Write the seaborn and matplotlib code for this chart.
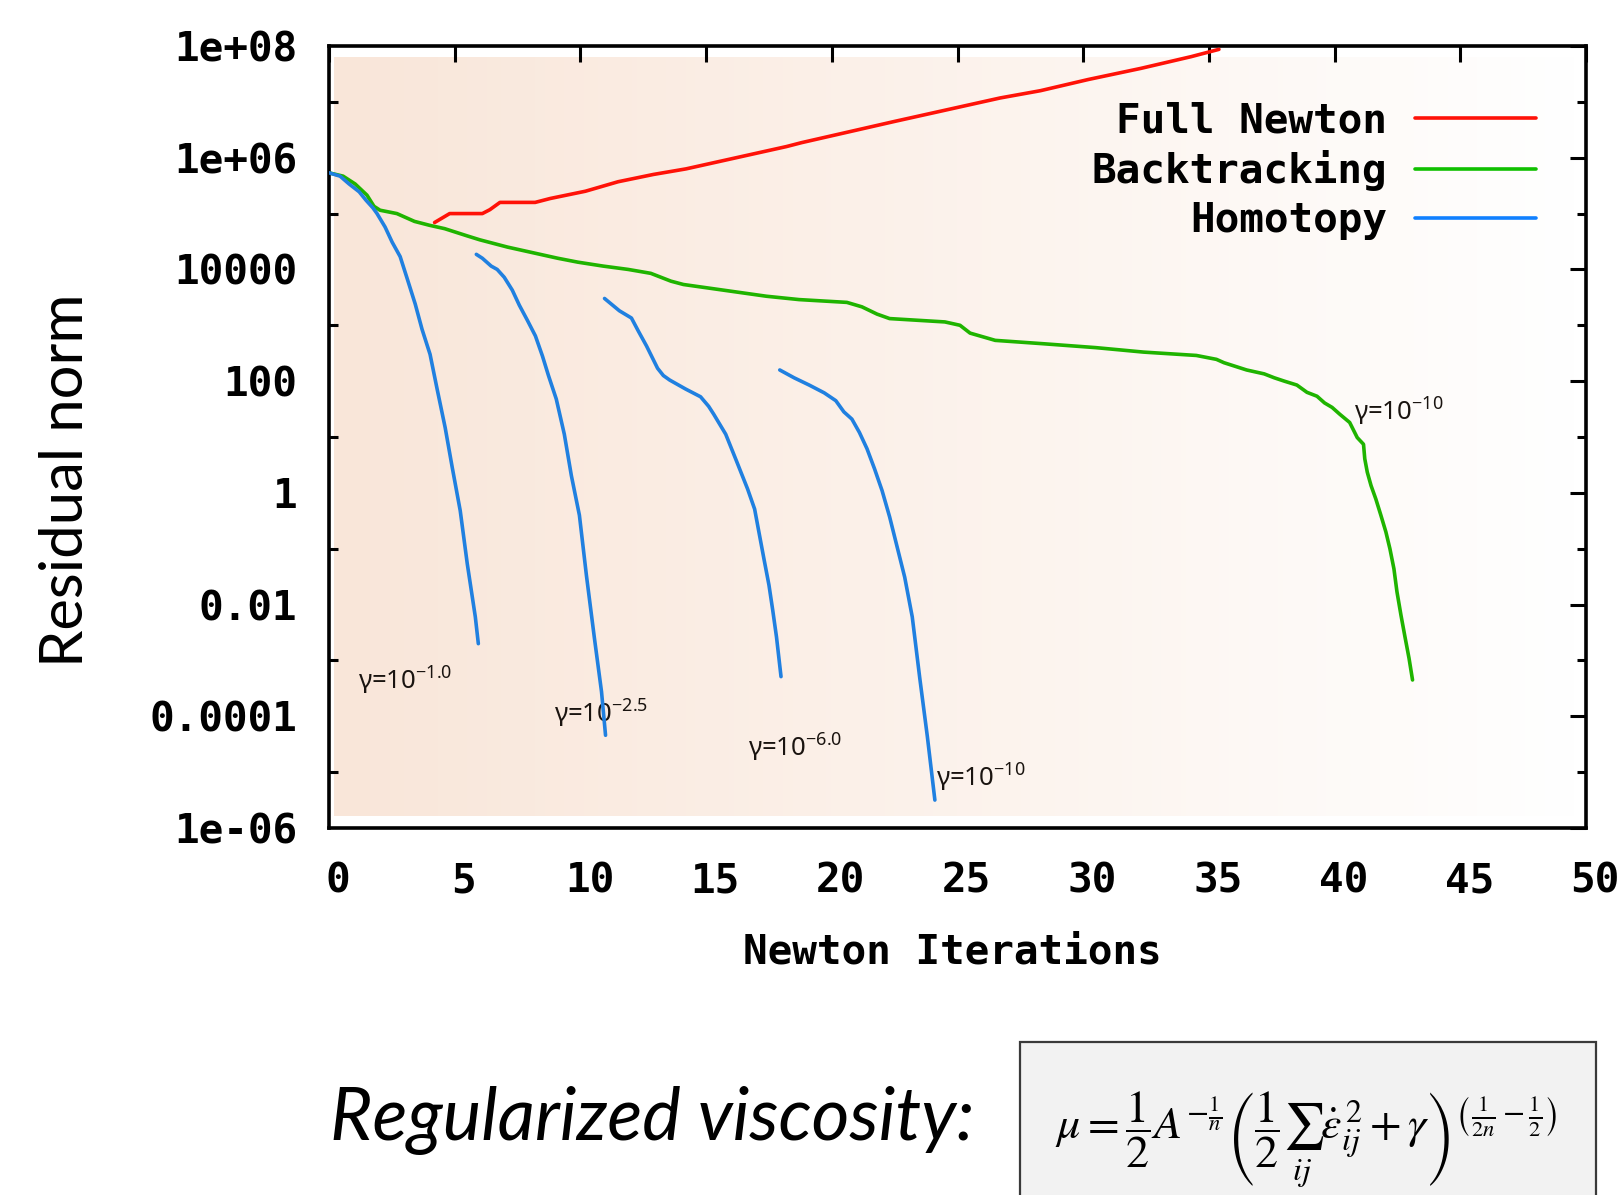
import numpy as np
import pandas as pd
import matplotlib
matplotlib.use("Agg")
import matplotlib.pyplot as plt
import matplotlib.transforms as mtransforms
from matplotlib.lines import Line2D
from matplotlib.patches import Rectangle
from matplotlib.colors import LinearSegmentedColormap
from matplotlib.ticker import NullFormatter
import seaborn as sns

# ---------------- data (x = Newton iteration, e = log10(residual norm)) ----------------
full_newton_x = [4.2, 4.8, 6.1, 6.4, 6.8, 8.2, 8.8, 10.2, 11.5, 12.9, 14.2, 15.5, 16.9,
                 18.2, 18.8, 22.5, 26.7, 28.3, 30.2, 32.3, 34.3, 35.4]
full_newton_e = [4.84, 5.0, 5.0, 5.07, 5.2, 5.2, 5.27, 5.40, 5.57, 5.70, 5.80, 5.93, 6.07,
                 6.20, 6.27, 6.65, 7.07, 7.20, 7.40, 7.60, 7.81, 7.94]

backtracking_x = [0.0, 0.56, 1.04, 1.51, 1.79, 2.03, 2.7, 3.4, 4.0, 4.6, 5.5, 6.0, 7.1, 7.8,
                  8.5, 9.1, 9.9, 10.9, 11.9, 12.8, 13.6, 14.1, 15.2, 16.3, 17.4, 18.7, 20.6,
                  21.2, 21.8, 22.3, 24.5, 25.1, 25.5, 26.5, 28.4, 30.5, 32.4, 34.5, 35.3, 35.6,
                  36.5, 37.2, 37.6, 38.0, 38.5, 38.9, 39.3, 39.6, 39.9, 40.2, 40.6, 40.9, 41.15,
                  41.2, 41.3, 41.45, 41.64, 41.84, 42.04, 42.2, 42.36, 42.48, 42.64, 42.8,
                  42.96, 43.1]
backtracking_e = [5.73, 5.67, 5.53, 5.33, 5.13, 5.06, 5.0, 4.86, 4.79, 4.73, 4.60, 4.53, 4.40,
                  4.33, 4.26, 4.20, 4.13, 4.06, 4.0, 3.93, 3.79, 3.73, 3.66, 3.59, 3.52, 3.46,
                  3.41, 3.33, 3.20, 3.12, 3.06, 3.0, 2.86, 2.73, 2.67, 2.60, 2.52, 2.46, 2.39,
                  2.33, 2.20, 2.13, 2.06, 2.0, 1.93, 1.80, 1.73, 1.61, 1.53, 1.41, 1.26, 0.99,
                  0.87, 0.61, 0.37, 0.13, -0.11, -0.40, -0.70, -1.0, -1.36, -1.77, -2.19,
                  -2.58, -2.96, -3.35]

homotopy_g1_x = [0.0, 0.44, 0.8, 1.2, 1.47, 1.75, 1.91, 2.23, 2.51, 2.83, 3.1, 3.43, 3.7,
                 4.02, 4.3, 4.62, 4.9, 5.22, 5.5, 5.82, 5.94]
homotopy_g1_e = [5.73, 5.67, 5.53, 5.39, 5.24, 5.10, 5.0, 4.76, 4.49, 4.23, 3.85, 3.38, 2.93,
                 2.48, 1.86, 1.17, 0.46, -0.32, -1.27, -2.22, -2.70]

homotopy_g2_x = [5.86, 6.1, 6.45, 6.69, 6.97, 7.29, 7.57, 7.89, 8.21, 8.49, 8.73, 9.04, 9.36,
                 9.64, 9.96, 10.24, 10.56, 10.84, 11.0]
homotopy_g2_e = [4.27, 4.20, 4.06, 4.0, 3.86, 3.63, 3.36, 3.09, 2.81, 2.45, 2.10, 1.68, 1.05,
                 0.31, -0.40, -1.48, -2.61, -3.56, -4.34]

homotopy_g3_x = [10.96, 11.55, 12.03, 12.3, 12.63, 13.07, 13.3, 13.55, 14.18, 14.78, 15.1,
                 15.3, 15.78, 16.2, 16.65, 16.93, 17.1, 17.3, 17.5, 17.65, 17.8, 17.98]
homotopy_g3_e = [3.48, 3.26, 3.13, 2.90, 2.63, 2.23, 2.10, 2.02, 1.86, 1.72, 1.55, 1.41, 1.05,
                 0.58, 0.07, -0.29, -0.70, -1.18, -1.65, -2.10, -2.58, -3.29]

homotopy_g4_x = [17.93, 18.5, 19.1, 19.7, 20.16, 20.48, 20.8, 21.1, 21.4, 21.7, 22.0, 22.3,
                 22.6, 22.9, 23.2, 23.5, 23.8, 24.1]
homotopy_g4_e = [2.20, 2.06, 1.93, 1.79, 1.65, 1.45, 1.32, 1.08, 0.79, 0.43, 0.04, -0.43,
                 -0.97, -1.51, -2.22, -3.32, -4.36, -5.5]

methods = ["Full Newton", "Backtracking", "Homotopy"]
colors = ["#ff1208", "#1fb400", "#2080e0"]
legend_colors = ["#ff1208", "#10c000", "#1080ff"]

y_tick_values = [1e8, 1e6, 1e4, 1e2, 1, 1e-2, 1e-4, 1e-6]
y_tick_labels = ["1e+08", "1e+06", "10000", "100", "1", "0.01", "0.0001", "1e-06"]
y_minor_values = [1e7, 1e5, 1e3, 1e1, 1e-1, 1e-3, 1e-5]
x_tick_values = [0, 5, 10, 15, 20, 25, 30, 35, 40, 45, 50]

gamma_labels = [r"γ=10$^{-1.0}$", r"γ=10$^{-2.5}$", r"γ=10$^{-6.0}$",
                r"γ=10$^{-10}$", r"γ=10$^{-10}$"]
gamma_x = [1.16, 8.96, 16.65, 24.14, 40.76]
gamma_e = [-3.36, -3.95, -4.57, -5.11, 1.45]

# ---------------- long-form table ----------------
rows = []
def add(method, seg, xs, es):
    for xv, ev in zip(xs, es):
        rows.append(dict(method=method, seg=seg, x=xv, y=10.0 ** ev))

add("Backtracking", "b", backtracking_x, backtracking_e)
add("Full Newton", "f", full_newton_x, full_newton_e)
add("Homotopy", "h1", homotopy_g1_x, homotopy_g1_e)
add("Homotopy", "h2", homotopy_g2_x, homotopy_g2_e)
add("Homotopy", "h3", homotopy_g3_x, homotopy_g3_e)
add("Homotopy", "h4", homotopy_g4_x, homotopy_g4_e)
df = pd.DataFrame(rows)

# ---------------- style ----------------
sns.set_theme(style="white")
plt.rcParams["font.family"] = ["Lato", "DejaVu Sans"]
plt.rcParams["mathtext.fontset"] = "custom"
plt.rcParams["mathtext.rm"] = "Noto Sans"
plt.rcParams["mathtext.it"] = "Noto Sans:italic"
plt.rcParams["mathtext.bf"] = "Noto Sans:bold"

W, H = 1617, 1195
fig = plt.figure(figsize=(W / 100, H / 100), dpi=100)
fig.patch.set_facecolor("white")
ax = fig.add_axes([329 / W, 1 - 828 / H, 1257 / W, 782 / H])
ax.set_facecolor("white")

# gradient background
cmap = LinearSegmentedColormap.from_list("bg", ["#F9E6D9", "#FFFFFF"])
ax.imshow(np.linspace(0, 1, 256).reshape(1, -1), cmap=cmap, aspect="auto",
          extent=[0.004, 0.996, 0.0155, 0.986], transform=ax.transAxes, zorder=0,
          interpolation="bilinear")

palette = dict(zip(methods, colors))
lw = 2.6
for method, z in [("Backtracking", 2), ("Full Newton", 3), ("Homotopy", 4)]:
    sub = df[df.method == method]
    sns.lineplot(data=sub, x="x", y="y", units="seg", estimator=None, sort=False,
                 color=palette[method], lw=lw, ax=ax, legend=False, zorder=z)

ax.set_yscale("log")
ax.set_xlim(0, 50)
ax.set_ylim(1e-6, 1e8)

mono = {"family": "DejaVu Sans Mono", "weight": "bold", "size": 29.5}
ax.set_yticks(y_tick_values, y_tick_labels)
ax.set_yticks(y_minor_values, minor=True)
ax.yaxis.set_minor_formatter(NullFormatter())
ax.set_xticks(x_tick_values, [str(v) for v in x_tick_values])
ax.xaxis.set_minor_formatter(NullFormatter())
for lab in ax.get_xticklabels() + ax.get_yticklabels():
    lab.set_fontproperties(mono)
ax.tick_params(axis="both", which="major", direction="in", length=11.5, width=2.2,
               color="black", top=True, right=True, labelcolor="black")
ax.tick_params(axis="y", which="minor", direction="in", length=6.5, width=2.2,
               color="black", left=True, right=True, labelleft=False)
ax.tick_params(axis="x", which="minor", bottom=False, top=False)
ax.tick_params(axis="x", which="major", pad=24)
ax.tick_params(axis="y", which="major", pad=23)
offset = mtransforms.ScaledTranslation(9 / 100, 0, fig.dpi_scale_trans)
for lab in ax.get_xticklabels():
    lab.set_transform(lab.get_transform() + offset)

for s in ax.spines.values():
    s.set_visible(True)
    s.set_linewidth(2.6)
    s.set_color("black")

ax.set_xlabel("Newton Iterations", fontproperties=mono, color="black", va="center")
ax.xaxis.set_label_coords(0.496, -0.158)
ax.set_ylabel("Residual norm", fontsize=43, family=["Lato", "DejaVu Sans"], color="black",
              va="center")
ax.yaxis.set_label_coords(-0.209, 0.445)

# gamma annotations
for t, gx, ge in zip(gamma_labels, gamma_x, gamma_e):
    ax.text(gx, 10.0 ** ge, t, fontsize=18.5, family=["Noto Sans", "DejaVu Sans"],
            color="#1a1410", ha="left", va="center", zorder=1)

# legend
handles = [Line2D([], [], color=c, lw=lw) for c in legend_colors]
leg = ax.legend(handles, methods, loc="upper right", bbox_to_anchor=(0.9605, 0.929),
                frameon=False, markerfirst=False, handlelength=2.95, handletextpad=0.7,
                labelspacing=0.24, borderpad=0, borderaxespad=0,
                prop={"family": "DejaVu Sans Mono", "weight": "bold", "size": 29.5})
for t in leg.get_texts():
    t.set_color("black")

# bottom annotation
fig.text(330 / W, 1 - 1140 / H, "Regularized viscosity:", fontsize=52.5, style="italic",
         family=["Lato", "DejaVu Sans"], color="black", ha="left", va="baseline")
fig.patches.append(Rectangle((1020 / W, -0.05), 576 / W, 0.05 + 1 - 1042 / H,
                             transform=fig.transFigure, facecolor="#F2F2F2",
                             edgecolor="#3a3a3a", lw=1.6, zorder=1))
formula = (r"$\mu=\dfrac{1}{2}A^{-\frac{1}{n}}\left(\dfrac{1}{2}\sum_{ij}\dot{\epsilon}_{ij}^{\,2}"
           r"+\gamma\right)^{\left(\frac{1}{2n}-\frac{1}{2}\right)}$")
fig.text(1306 / W, 1 - 1140 / H, formula, fontsize=33, math_fontfamily="stix",
         color="black", ha="center", va="baseline", zorder=2)

fig.savefig("out.png", dpi=100, facecolor="white")
